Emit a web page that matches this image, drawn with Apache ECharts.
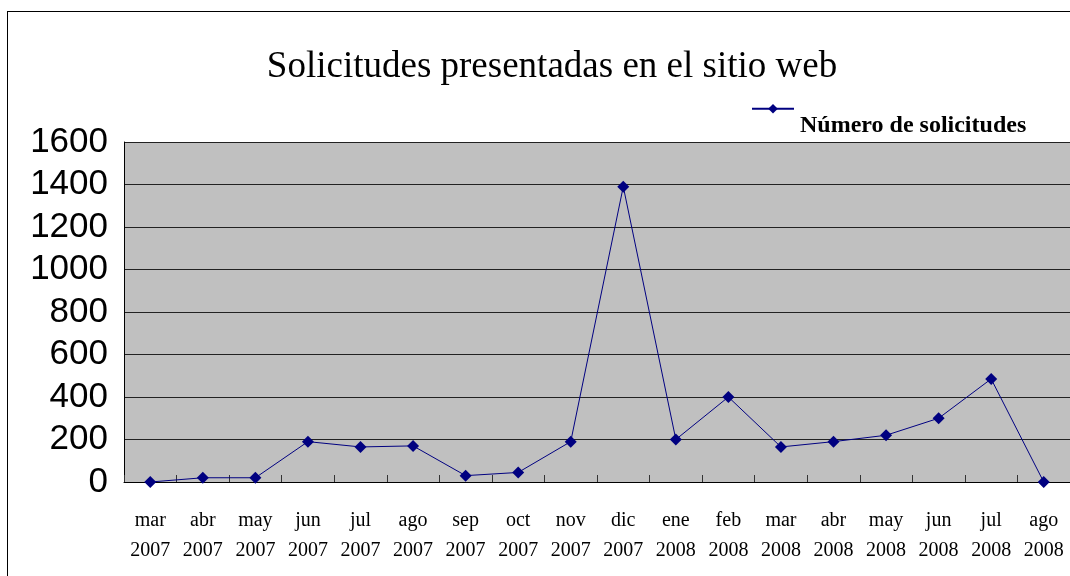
<!DOCTYPE html>
<html>
<head>
<meta charset="utf-8">
<script src="https://cdn.jsdelivr.net/npm/echarts@6/dist/echarts.min.js"></script>
<style>
  html, body { margin: 0; padding: 0; background: #fff; }
  #frame { position: absolute; left: 7px; top: 11px; width: 1080px; height: 600px; border: 1px solid #000; box-sizing: border-box; }
  #main { position: absolute; left: 0; top: 0; width: 1070px; height: 576px; }
</style>
</head>
<body>
<div id="frame"></div>
<div id="main"></div>
<script>
var months = ['mar\n2007', 'abr\n2007', 'may\n2007', 'jun\n2007', 'jul\n2007', 'ago\n2007',
  'sep\n2007', 'oct\n2007', 'nov\n2007', 'dic\n2007', 'ene\n2008', 'feb\n2008',
  'mar\n2008', 'abr\n2008', 'may\n2008', 'jun\n2008', 'jul\n2008', 'ago\n2008'];
var solicitudes = [0, 20, 20, 190, 165, 170, 30, 45, 190, 1390, 200, 400, 165, 190, 220, 300, 485, 0];

var chart = echarts.init(document.getElementById('main'));

var option = {
  animation: false,
  title: {
    text: 'Solicitudes presentadas en el sitio web',
    left: 547,
    textAlign: 'center',
    top: 44,
    textStyle: { fontFamily: 'Liberation Serif', fontWeight: 'normal', fontSize: 37, color: '#000' }
  },
  legend: {
    left: 746,
    top: 99,
    itemWidth: 42,
    itemHeight: 12,
    itemGap: 0,
    formatter: '{a|{name}}',
    textStyle: {
      rich: {
        a: { fontFamily: 'Liberation Serif', fontWeight: 'bold', fontSize: 24, color: '#000', padding: [34, 0, 0, 1] }
      }
    },
    data: ['Número de solicitudes']
  },
  grid: {
    left: 124,
    right: -4,
    top: 142,
    bottom: 94,
    show: true,
    backgroundColor: '#c0c0c0',
    borderWidth: 0
  },
  xAxis: {
    type: 'category',
    data: months,
    boundaryGap: true,
    axisLine: { lineStyle: { color: '#000', width: 1 } },
    axisTick: { show: true, inside: true, length: 7, lineStyle: { color: '#333' } },
    axisLabel: { fontFamily: 'Liberation Serif', fontSize: 20, color: '#000', lineHeight: 30, margin: 24, interval: 0 }
  },
  yAxis: {
    type: 'value',
    min: 0,
    max: 1600,
    interval: 200,
    axisLine: { show: true, lineStyle: { color: '#000', width: 1 } },
    axisTick: { show: false },
    axisLabel: { fontFamily: 'Liberation Sans', fontSize: 35, color: '#000', margin: 16, formatter: function (v) { return String(v); } },
    splitLine: { lineStyle: { color: '#222', width: 1 } }
  },
  series: [{
    name: 'Número de solicitudes',
    type: 'line',
    data: solicitudes,
    symbol: 'diamond',
    symbolSize: 12,
    itemStyle: { color: '#000080' },
    lineStyle: { color: '#000080', width: 1 }
  }]
};

chart.setOption(option);
</script>
</body>
</html>
